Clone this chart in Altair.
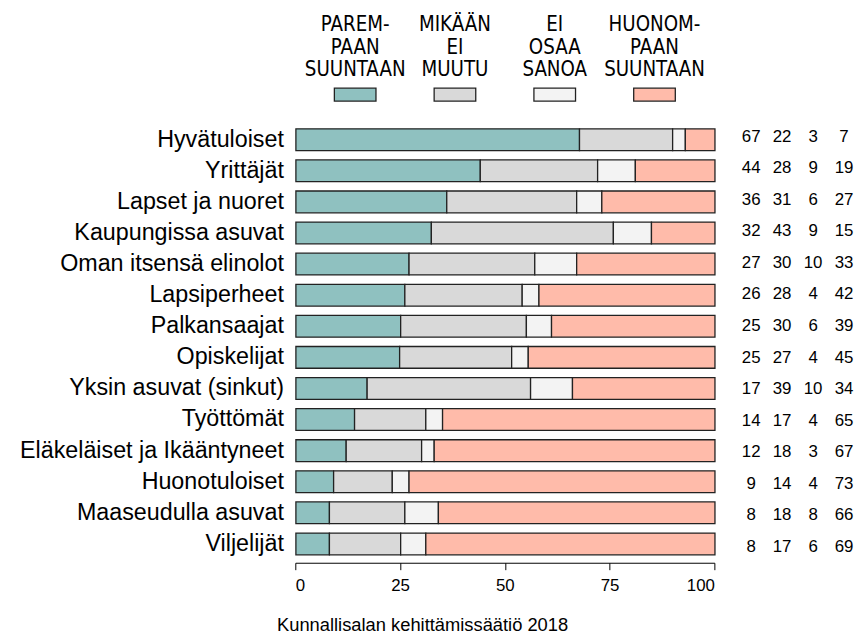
import altair as alt
import pandas as pd

# ---- data ----
groups = [
    "Hyvätuloiset", "Yrittäjät", "Lapset ja nuoret", "Kaupungissa asuvat",
    "Oman itsensä elinolot", "Lapsiperheet", "Palkansaajat", "Opiskelijat",
    "Yksin asuvat (sinkut)", "Työttömät", "Eläkeläiset ja Ikääntyneet",
    "Huonotuloiset", "Maaseudulla asuvat", "Viljelijät",
]
parempaan = [67, 44, 36, 32, 27, 26, 25, 25, 17, 14, 12, 9, 8, 8]
ei_muutu = [22, 28, 31, 43, 30, 28, 30, 27, 39, 17, 18, 14, 18, 17]
ei_osaa = [3, 9, 6, 9, 10, 4, 6, 4, 10, 4, 3, 4, 8, 6]
huonompaan = [7, 19, 27, 15, 33, 42, 39, 45, 34, 65, 67, 73, 66, 69]

series_keys = ["PAREMPAAN SUUNTAAN", "MIKÄÄN EI MUUTU", "EI OSAA SANOA", "HUONOMPAAN SUUNTAAN"]
legend_labels = ["PAREM-\nPAAN\nSUUNTAAN", "MIKÄÄN\nEI\nMUUTU", "EI\nOSAA\nSANOA", "HUONOM-\nPAAN\nSUUNTAAN"]
colors = ["#8FC1C0", "#D9D9D9", "#F3F3F3", "#FFBBAA"]
x_ticks = [0, 25, 50, 75, 100]
caption = "Kunnallisalan kehittämissäätiö 2018"

FONT = "Liberation Sans, Arial, Helvetica, sans-serif"
NARROW = "Liberation Sans Narrow, Arial Narrow, DejaVu Sans Condensed, Liberation Sans, sans-serif"

series_vals = [parempaan, ei_muutu, ei_osaa, huonompaan]
rows = []
for gi, g in enumerate(groups):
    for si, s in enumerate(series_keys):
        rows.append({"group": g, "series": s, "idx": si, "value": series_vals[si][gi]})
df = pd.DataFrame(rows)
leg_df = pd.DataFrame({"series": series_keys, "label": legend_labels})

color_scale = alt.Scale(domain=series_keys, range=colors)
PLOT_W, PLOT_H = 423, 446

# ---- main bars ----
bars = alt.Chart(df).transform_joinaggregate(
    total="sum(value)", groupby=["group"]
).transform_calculate(
    pct="datum.value / datum.total * 100"
).mark_bar(stroke="#222222", strokeWidth=1.3, xOffset=0.6, x2Offset=-0.6).encode(
    x=alt.X("pct:Q", stack="zero",
            scale=alt.Scale(domain=[0, 100], nice=False, zero=True),
            axis=alt.Axis(values=x_ticks, title=caption, grid=False,
                          tickSize=7, tickColor="black", domainColor="black",
                          labelFontSize=17, labelPadding=8, labelColor="black",
                          labelFont=FONT, titleFont=FONT, titleFontSize=18.5,
                          titleFontWeight="normal", titleColor="black",
                          titleX=128, titleY=53, titleBaseline="top")),
    y=alt.Y("group:N", sort=groups,
            scale=alt.Scale(paddingInner=0.3, paddingOuter=0.255),
            axis=alt.Axis(title=None, ticks=False, domain=False,
                          labelFontSize=23.5, labelPadding=12,
                          labelColor="black", labelFont=FONT, labelLimit=500)),
    color=alt.Color("series:N", scale=color_scale, legend=None),
    order=alt.Order("idx:Q"),
).properties(width=PLOT_W, height=PLOT_H)

# ---- numbers table on the right ----
nums = alt.Chart(df).mark_text(fontSize=17, font=FONT, color="black").encode(
    x=alt.X("series:N", sort=series_keys,
            scale=alt.Scale(type="point", padding=0.5), axis=None),
    y=alt.Y("group:N", sort=groups,
            scale=alt.Scale(paddingInner=0.3, paddingOuter=0.255), axis=None),
    text="value:Q",
).properties(width=125, height=PLOT_H)

# ---- legend on top ----
leg_x = alt.X("series:N", sort=series_keys,
              scale=alt.Scale(type="band", paddingInner=0, paddingOuter=0.1),
              axis=None)
leg_text = alt.Chart(leg_df).mark_text(
    lineBreak="\n", fontSize=20.5, font=NARROW, lineHeight=22.5,
    baseline="alphabetic", color="black"
).encode(x=leg_x, y=alt.value(20.5), text="label:N")
leg_box = alt.Chart(leg_df).mark_bar(size=42, stroke="#222222", strokeWidth=1.3).encode(
    x=leg_x, y=alt.value(78), y2=alt.value(91),
    color=alt.Color("series:N", scale=color_scale, legend=None),
)
legend = alt.layer(leg_text, leg_box).properties(width=PLOT_W, height=100)

blank = alt.Chart(pd.DataFrame({"t": [""]})).mark_text().encode(
    text="t:N").properties(width=125, height=100)

chart = alt.concat(
    legend, blank, bars, nums, columns=2,
    spacing={"row": 11, "column": 21.5}, bounds="flush",
).configure_view(stroke=None).properties(
    padding={"left": 11, "top": 0, "right": 0, "bottom": 0},
    background="white",
)

chart.save("out.html", embed_options={"renderer": "svg", "actions": False})
